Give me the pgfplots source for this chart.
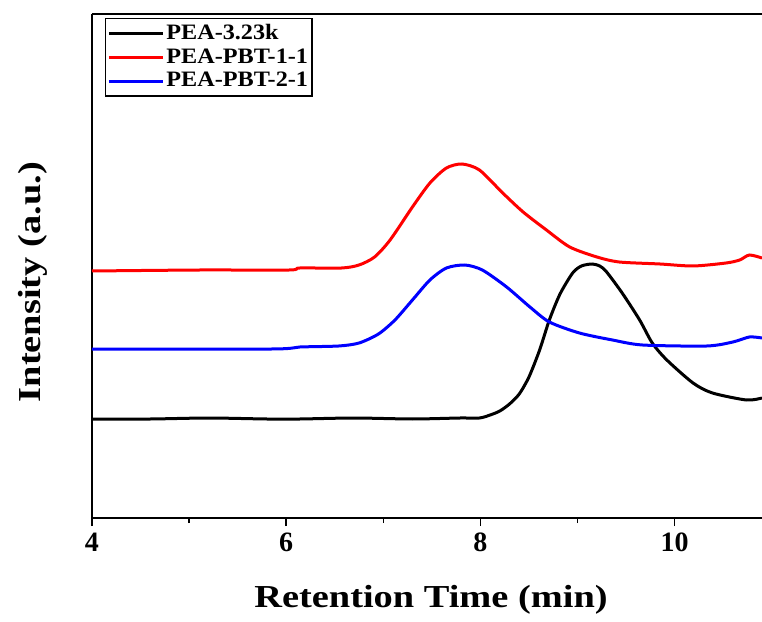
\documentclass[border=0pt]{standalone}
\usepackage{fontspec}
\setmainfont{Liberation Serif}
\newfontfamily\widefont[FakeStretch=1.2]{Liberation Serif}
\newfontfamily\legfont[FakeStretch=1.1]{Liberation Serif}
\usepackage{pgfplots}
\pgfplotsset{compat=1.18}

\begin{document}
\begin{tikzpicture}
\useasboundingbox (-46pt,-52pt) rectangle (335pt,259pt);
\begin{axis}[
  at={(0,0)}, anchor=south west,
  scale only axis,
  width=335pt, height=252pt,
  xmin=4, xmax=10.9,
  ymin=0, ymax=504,
  axis x line=box, axis y line*=left,
  axis line style={line width=1pt},
  xtick={4,6,8,10},
  minor x tick num=1,
  xtick pos=bottom,
  ytick=\empty,
  tick align=outside,
  major tick length=4pt,
  minor tick length=2.5pt,
  every tick/.style={black, line width=0.8pt},
  /pgf/number format/assume math mode=true,
  ticklabel style={font=\bfseries\fontsize{14}{14}\selectfont},
  xlabel={Retention Time (min)},
  ylabel={Intensity (a.u.)},
  label style={font=\widefont\bfseries\fontsize{16}{16}\selectfont},
  xlabel style={at={(axis description cs:0.506,-0.163)}, anchor=center},
  ylabel style={at={(axis description cs:-0.088,0.468)}, anchor=center},
  legend style={at={(axis description cs:0.019,0.992)}, anchor=north west,
    draw=black, line width=0.6pt, font=\legfont\bfseries\fontsize{11}{11}\selectfont,
    inner sep=1pt, row sep=-1pt,
    nodes={inner xsep=1pt}},
  legend cell align=left,
  legend image code/.code={\draw[#1, line width=1.5pt] (0cm,0cm) -- (0.95cm,0cm);},
  every axis plot/.append style={line width=1.5pt, smooth, tension=0.45},
  clip=true,
]
\addplot[black] coordinates {
(4.00,99) (4.60,99) (5.20,100) (5.80,99) (6.14,99) (6.70,100) (7.30,99) (7.79,100) (7.99,100)
(8.10,103) (8.20,107) (8.30,114) (8.40,124) (8.50,141) (8.61,168) (8.71,198) (8.82,224) (8.95,245)
(9.04,252) (9.15,254) (9.23,252) (9.30,246) (9.46,225) (9.64,198) (9.77,175) (9.92,158)
(10.19,135) (10.39,125) (10.74,118) (10.90,120)
};
\addlegendentry{PEA-3.23k}
\addplot[red] coordinates {
(4.00,247) (5.11,248) (6.03,248) (6.14,250) (6.57,250) (6.75,253) (6.91,261) (7.07,278)
(7.30,311) (7.48,335) (7.65,350) (7.81,354) (7.99,348) (8.23,325) (8.44,306) (8.68,288)
(8.92,271) (9.20,261) (9.43,256) (9.85,254) (10.19,252) (10.53,255) (10.67,258) (10.77,263)
(10.90,260)
};
\addlegendentry{PEA-PBT-1-1}
\addplot[blue] coordinates {
(4.00,169) (5.85,169) (6.14,171) (6.54,172) (6.75,175) (6.95,184) (7.12,198) (7.30,218)
(7.48,238) (7.65,250) (7.84,253) (8.02,248) (8.27,231) (8.51,211) (8.71,196) (9.02,185)
(9.36,178) (9.67,173) (10.33,172) (10.60,176) (10.77,181) (10.90,180)
};
\addlegendentry{PEA-PBT-2-1}
\end{axis}
\end{tikzpicture}
\end{document}
